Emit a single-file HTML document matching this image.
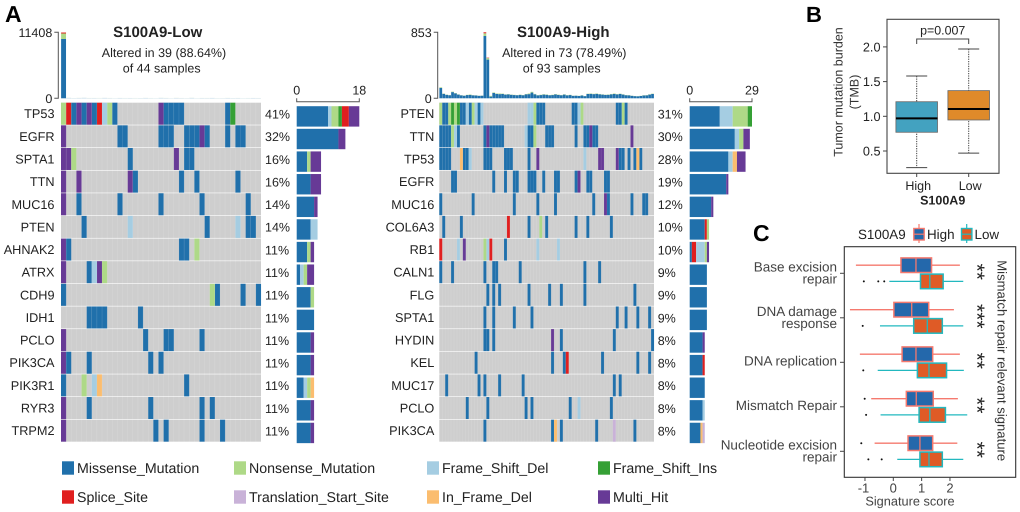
<!DOCTYPE html>
<html lang="en">
<head>
<meta charset="utf-8">
<title>S100A9 oncoplots and signature scores</title>
<style>
html,body{margin:0;padding:0;background:#fff;}
svg{display:block;font-family:"Liberation Sans",Arial,sans-serif;text-rendering:geometricPrecision;filter:blur(0.3px);}
</style>
</head>
<body>
<svg id="figure" width="1020" height="512" viewBox="0 0 1020 512" xmlns="http://www.w3.org/2000/svg">
  <rect width="1020" height="512" fill="#fff"/>
  <text x="5" y="22" font-size="23" font-weight="bold" fill="#000">A</text>
  <text x="806" y="22" font-size="22" font-weight="bold" fill="#000">B</text>
  <text x="753" y="241" font-size="23" font-weight="bold" fill="#000">C</text>

  <text x="157.7" y="37" font-size="15" font-weight="bold" text-anchor="middle" fill="#222">S100A9-Low</text>
  <text x="164" y="57" font-size="12.5" text-anchor="middle" fill="#222">Altered in 39 (88.64%)</text>
  <text x="161.7" y="72.5" font-size="12.5" text-anchor="middle" fill="#222">of 44 samples</text>
  <text x="563.3" y="37" font-size="15" font-weight="bold" text-anchor="middle" fill="#222">S100A9-High</text>
  <text x="564.3" y="57" font-size="12.5" text-anchor="middle" fill="#222">Altered in 73 (78.49%)</text>
  <text x="561.7" y="72.5" font-size="12.5" text-anchor="middle" fill="#222">of 93 samples</text>

  <g id="oncoplots"></g>
  <g id="mutation-legend"></g>
  <g id="panel-b"></g>
  <g id="panel-c"></g>
</svg>
<script>
// ---------- mutation types ----------
const typeKeys = ['M','N','L','I','S','T','F','X'];
const typeNames = ['Missense_Mutation','Nonsense_Mutation','Frame_Shift_Del','Frame_Shift_Ins','Splice_Site','Translation_Start_Site','In_Frame_Del','Multi_Hit'];
const typeColors = {M:'#2070ab',N:'#aed987',L:'#a5cde2',I:'#35a035',S:'#e01f1f',T:'#c9b2d8',F:'#fbbd6f',X:'#673a96'};
const lowStackOrder = ['M','L','N','I','S','F','T','X'];
const highStackOrder = ['M','S','L','N','I','F','T','X'];

// ---------- S100A9-Low oncoplot ----------
const lowGenes = ['TP53','EGFR','SPTA1','TTN','MUC16','PTEN','AHNAK2','ATRX','CDH9','IDH1','PCLO','PIK3CA','PIK3R1','RYR3','TRPM2'];
const lowPercents = ['41%','32%','16%','16%','14%','14%','11%','11%','11%','11%','11%','11%','11%','11%','11%'];
const lowCells = [
  {N:[0,9],S:[1,7],M:[2,4,6,10,20,21,22,23,32],X:[3,5,19],L:[8],I:[33]},
  {X:[0,27],M:[11,12,19,20,21,24,25,26,28,32,34,35]},
  {X:[0,1,22],N:[2],M:[13,24,25]},
  {X:[0,3,13],M:[14,23,26,34]},
  {X:[0],M:[3,11,19,27,36]},
  {M:[4,28,36,37],L:[13,34]},
  {X:[0],M:[1,23,24],N:[26]},
  {X:[0,7],M:[5],L:[6],N:[8]},
  {M:[0,30,35,38],N:[29]},
  {M:[5,6,7,8,15]},
  {X:[0],M:[16,20,21,27]},
  {X:[0],M:[1,5,17,19]},
  {M:[0,24],N:[4],L:[6],F:[7]},
  {X:[0],M:[5,17,27,29]},
  {X:[0],M:[18,20,27,31]}
];
const lowTopMissense = [10250,60,40,50,70,40,45,30,60,40,30,50,35,45,30,40,55,35,30,60,45,30,50,40,35,60,30,45,40,55,30,35,50,40,45,30,35,50,40];
const lowTopNonsense = [950,20,10,25,10,20,15,30,10,20,10,15,20,10,25,10,15,20,10,15,20,10,25,15,10,20,10,15,20,10,15,10,20,10,15,10,20,10,15];
const lowTopSplice = [170,0,0,0,0,0,0,0,0,0,0,0,0,0,0,0,0,0,0,0,0,0,0,0,0,0,0,0,0,0,0,0,0,0,0,0,0,0,0];

// ---------- S100A9-High oncoplot ----------
const highGenes = ['PTEN','TTN','TP53','EGFR','MUC16','COL6A3','RB1','CALN1','FLG','SPTA1','HYDIN','KEL','MUC17','PCLO','PIK3CA'];
const highPercents = ['31%','30%','28%','19%','12%','10%','10%','9%','9%','9%','8%','8%','8%','8%','8%'];
const highCells = [
  {N:[0,3,5,11,32,48,62],M:[1,2,7,8,10,13,33,34,35,45,46,60,61,63],I:[4,6],L:[9,12,14,30,31,47]},
  {M:[0,1,2,3,6,15,17,18,19,20,21,30,31,36,37,38,46,49,50,52,53],N:[4,32],L:[5,29],X:[16,51,65]},
  {M:[0,1,2,3,8,9,15,16,17,22,23,24,30,61,62,64,66,68],F:[7,67],L:[10,49],X:[33,54,55,60]},
  {M:[4,5,18,22,25,26,30,31,32,35,39,40,46,50,51,56,57],X:[47]},
  {M:[0,11,25,33,39,52,57,65,69,70],X:[56]},
  {M:[1,7,30,36,46,50,58],S:[23],N:[34]},
  {S:[0,17],L:[6,16,33,40],X:[8],N:[15],M:[22]},
  {M:[0,4,15,18,19,27,49,54]},
  {M:[16,18,20,30,37,41,49,66]},
  {M:[15,18,25,31,60,63,67,71]},
  {M:[15,16,18,41,59,72],X:[38]},
  {M:[12,38,42,55,67,71],S:[43]},
  {M:[2,13,15,20,28,59,61]},
  {M:[9,16,29,31,44,58],L:[47]},
  {M:[15,38,41,53,66],F:[39],T:[59]}
];
const highTopMissense = [135,58,45,40,80,64,48,38,34,42,44,38,36,32,34,805,500,22,70,58,54,56,48,50,46,42,40,44,40,52,54,74,52,38,42,48,46,40,42,50,44,40,48,38,42,32,34,30,36,28,56,58,54,58,52,48,44,46,52,56,50,56,48,40,38,32,28,26,30,36,38,48,56];
const highTopNonsense = [8,4,3,3,6,4,3,2,2,3,6,2,2,2,2,35,20,10,6,5,8,5,3,4,3,3,2,4,3,4,8,10,5,3,4,5,4,3,4,4,4,3,4,3,3,2,2,2,3,2,4,5,4,5,4,3,3,4,4,6,4,4,4,3,3,2,2,2,2,3,3,4,4];
const highTopSplice = [0,0,0,0,0,0,0,0,0,0,0,0,0,0,0,13,5,0,0,0,0,0,0,0,0,0,0,0,0,0,0,0,0,0,0,0,0,0,0,0,0,0,0,0,0,0,0,0,0,0,0,0,0,0,0,0,0,0,0,0,0,0,0,0,0,0,0,0,0,0,0,0,0];

const lowTopTicks = [0, 11408];
const highTopTicks = [0, 853];
const lowSideTicks = [0, 18];
const highSideTicks = [0, 29];

// ---------- panel B ----------
const tmbCategories = ['High','Low'];
const tmbMin = [0.26,0.47];
const tmbQ1 = [0.77,0.947];
const tmbMedian = [0.97,1.105];
const tmbQ3 = [1.21,1.37];
const tmbMax = [1.58,1.97];
const tmbFills = ['#43a2c0','#df8a2a'];
const tmbTicks = [0.5,1.0,1.5,2.0];

// ---------- panel C ----------
const sigCategories = [['Base excision','repair'],['DNA damage','response'],['DNA replication'],['Mismatch Repair'],['Nucleotide excision','repair']];
const sigStars = ['**','***','**','**','**'];
const highMin = [-1.32,-1.53,-1.18,-0.78,-0.66];
const highQ1 = [0.27,0.02,0.31,0.46,0.52];
const highMedian = [0.8,0.65,0.8,0.81,0.94];
const highQ3 = [1.35,1.25,1.39,1.41,1.39];
const highMax = [2.35,2.14,2.35,2.28,2.26];
const highOutliers = [[],[],[],[-1.01],[-1.13]];
const lowMin = [-0.14,-0.47,-0.55,-0.45,0.14];
const lowQ1 = [0.96,0.72,0.85,0.91,0.94];
const lowMedian = [1.29,1.2,1.26,1.29,1.26];
const lowQ3 = [1.76,1.73,1.88,1.84,1.73];
const lowMax = [2.47,2.47,2.49,2.61,2.47];
const lowOutliers = [[-1.04,-0.53,-0.32],[-1.08],[-1.06],[-0.96],[-0.88,-0.41]];
const sigTicks = [-1,0,1,2];

// ---------- helpers ----------
const NS = 'http://www.w3.org/2000/svg';
function mk(parent, tag, attrs, txt) {
  const el = document.createElementNS(NS, tag);
  for (const k in attrs) el.setAttribute(k, attrs[k]);
  if (txt !== undefined) el.textContent = txt;
  parent.appendChild(el);
  return el;
}

// ---------- oncoplot ----------
const rowTop = 102.7, rowStep = 22.64, rowH = 22;
function drawOncoplot(cfg) {
  const root = document.getElementById('oncoplots');
  const g = mk(root, 'g', {});
  
  
  const nCols = cfg.top[0].length;
  const cw = cfg.w / nCols;
  const xCol = c => cfg.x + c * cw;
  const yRow = r => rowTop + r * rowStep;
  const yTop = v => 98.3 - v / cfg.topTicks[1] * 66;
  const xSide = v => cfg.sideX + v / cfg.sideTicks[1] * cfg.sideW;

  // top stacked bars
  const topColors = ['#2070ab','#aed987','#e01f1f'];
  for (let c = 0; c < nCols; c++) {
    let acc = 0;
    cfg.top.forEach((series, s) => {
      const v = series[c];
      if (!v) return;
      const y1 = yTop(acc + v), y0 = yTop(acc);
      const bar = mk(g, 'rect', {x: xCol(c) + 0.1, y: y1, width: cw - 0.2, height: y0 - y1, fill: topColors[s], opacity: cfg.topOpacity(v)});
      
      
      acc += v;
    });
  }
  // top axis
  const ax = mk(g, 'path', {d: 'M' + (cfg.axisX - 4) + ' ' + yTop(cfg.topTicks[1]) + 'H' + cfg.axisX + 'V' + yTop(0) + 'H' + (cfg.axisX - 4), fill: 'none', stroke: '#555', 'stroke-width': 1});
  
  
  cfg.topTicks.forEach(t => {
    const tl = mk(g, 'text', {x: cfg.axisX - 6, y: yTop(t) + 4.5, 'font-size': 12.5, 'text-anchor': 'end', fill: '#222'}, t);
    
    
  });

  // rows
  cfg.genes.forEach((gene, r) => {
    const bg = mk(g, 'rect', {x: cfg.x, y: yRow(r), width: cfg.w, height: rowH, fill: '#cecece'});
    
    
    const cells = cfg.cells[r];
    for (const k in cells) {
      cells[k].forEach(c => {
        const cell = mk(g, 'rect', {x: xCol(c), y: yRow(r), width: cw + 0.05, height: rowH, fill: typeColors[k]});
        
        
      });
    }
    const gl = mk(g, 'text', {x: cfg.labelX, y: yRow(r) + 15.5, 'font-size': 12.7, 'text-anchor': 'end', fill: '#222'}, gene);
    
    
    const pl = mk(g, 'text', {x: cfg.pctX, y: yRow(r) + 15.8, 'font-size': 12.5, fill: '#222'}, cfg.percents[r]);
    
    

    // side stacked bar derived from the matrix
    let acc = 0;
    cfg.order.forEach(k => {
      const n = (cells[k] || []).length;
      if (!n) return;
      const sb = mk(g, 'rect', {x: xSide(acc), y: 106.2 + r * 22.61, width: xSide(acc + n) - xSide(acc), height: 20.4, fill: typeColors[k]});
      
      
      acc += n;
    });
  });
  // faint column separators
  for (let c = 1; c < nCols; c++) {
    const ln = mk(g, 'line', {x1: xCol(c), x2: xCol(c), y1: rowTop, y2: yRow(14) + rowH, stroke: '#fff', 'stroke-width': 0.5, opacity: cfg.sepOpacity});
    
    
  }
  // side axis
  const sa = mk(g, 'path', {d: 'M' + xSide(0) + ' 98.3V101.7H' + xSide(cfg.sideTicks[1]) + 'V98.3', fill: 'none', stroke: '#555', 'stroke-width': 1});
  
  
  cfg.sideTicks.forEach(t => {
    const st = mk(g, 'text', {x: xSide(t), y: 94.5, 'font-size': 12.5, 'text-anchor': 'middle', fill: '#222'}, t);
    
    
  });
}

drawOncoplot({id: 'low', x: 61, w: 200, axisX: 58.3, labelX: 54.5, pctX: 265, sideX: 296.7, sideW: 62.6,
  genes: lowGenes, percents: lowPercents, cells: lowCells, order: lowStackOrder,
  top: [lowTopMissense, lowTopNonsense, lowTopSplice], topTicks: lowTopTicks, sideTicks: lowSideTicks,
  topOpacity: v => v < 100 ? 0.45 : 1, sepOpacity: 0.18});
drawOncoplot({id: 'high', x: 439.3, w: 214.7, axisX: 437.7, labelX: 434.3, pctX: 657.7, sideX: 689.7, sideW: 62.3,
  genes: highGenes, percents: highPercents, cells: highCells, order: highStackOrder,
  top: [highTopMissense, highTopNonsense, highTopSplice], topTicks: highTopTicks, sideTicks: highSideTicks,
  topOpacity: v => 1, sepOpacity: 0.14});

// ---------- mutation legend ----------
(function () {
  const g = document.getElementById('mutation-legend');
  const colX = [62, 234, 427, 598];
  const rowY = [468, 497];
  typeKeys.forEach((k, i) => {
    const cx = colX[i % 4], cy = rowY[Math.floor(i / 4)];
    const sw = mk(g, 'rect', {x: cx, y: cy - 6.7, width: 12, height: 13.4, fill: typeColors[k]});
    
    
    const t = mk(g, 'text', {x: cx + 15, y: cy + 5, 'font-size': 14.2, fill: '#222'}, typeNames[i]);
    
    
  });
})();

// ---------- panel B ----------
(function () {
  const g = document.getElementById('panel-b');
  const yB = v => 116.3 - (v - 1) * 69.4;
  const xB = i => 916.7 + i * 52;
  const frame = mk(g, 'rect', {x: 887, y: 19.3, width: 112, height: 154, fill: 'none', stroke: '#444', 'stroke-width': 1.1});
  
  
  tmbTicks.forEach(t => {
    const tk = mk(g, 'line', {x1: 883, x2: 887, y1: yB(t), y2: yB(t), stroke: '#444', 'stroke-width': 1});
    
    
    const tl = mk(g, 'text', {x: 880.5, y: yB(t) + 4.6, 'font-size': 12.7, 'text-anchor': 'end', fill: '#222'}, t.toFixed(1));
    
    
  });
  tmbCategories.forEach((cat, i) => {
    const x = xB(i);
    const wh = mk(g, 'line', {x1: x, x2: x, y1: yB(tmbMax[i]), y2: yB(tmbMin[i]), stroke: '#444', 'stroke-width': 1, 'stroke-dasharray': '1.3 1.1'});
    
    
    [tmbMin[i], tmbMax[i]].forEach(v => {
      const cap = mk(g, 'line', {x1: x - 10.5, x2: x + 10.5, y1: yB(v), y2: yB(v), stroke: '#444', 'stroke-width': 1});
      
      
    });
    const box = mk(g, 'rect', {x: x - 20.8, y: yB(tmbQ3[i]), width: 41.6, height: yB(tmbQ1[i]) - yB(tmbQ3[i]), fill: tmbFills[i], stroke: '#666', 'stroke-width': 0.8});
    
    
    const med = mk(g, 'line', {x1: x - 20.8, x2: x + 20.8, y1: yB(tmbMedian[i]), y2: yB(tmbMedian[i]), stroke: '#000', 'stroke-width': 2});
    
    
    const tk = mk(g, 'line', {x1: x, x2: x, y1: 173.3, y2: 177, stroke: '#444', 'stroke-width': 1});
    
    
    const tl = mk(g, 'text', {x: x + 1.5, y: 190, 'font-size': 12.5, 'text-anchor': 'middle', fill: '#222'}, cat);
    
    
  });
  const br = mk(g, 'path', {d: 'M' + xB(0) + ' 44V39H' + xB(1) + 'V44', fill: 'none', stroke: '#444', 'stroke-width': 1});
  
  
  const p = mk(g, 'text', {x: 942.7, y: 34.5, 'font-size': 12.4, 'text-anchor': 'middle', fill: '#222'}, 'p=0.007');
  
  
  const t1 = mk(g, 'text', {x: 0, y: 0, 'font-size': 12.5, 'text-anchor': 'middle', fill: '#333', transform: 'translate(842.5 92) rotate(-90)'}, 'Tumor mutation burden');
  
  
  const t2 = mk(g, 'text', {x: 0, y: 0, 'font-size': 12.5, 'text-anchor': 'middle', fill: '#333', transform: 'translate(858.5 92) rotate(-90)'}, '(TMB)');
  
  
  const xt = mk(g, 'text', {x: 942.7, y: 204.5, 'font-size': 12.5, 'font-weight': 'bold', 'text-anchor': 'middle', fill: '#222'}, 'S100A9');
  
  
})();

// ---------- panel C ----------
(function () {
  const g = document.getElementById('panel-c');
  const xC = v => 893.3 + v * 28.33;
  const yC = i => 273.3 + i * 44.5;   // category tick position
  const HIGH_FILL = '#2468ab', HIGH_LINE = '#f5796e', LOW_FILL = '#df5b26', LOW_LINE = '#22b8bf';
  const frame = mk(g, 'rect', {x: 844.3, y: 246.7, width: 171.4, height: 230.6, fill: 'none', stroke: '#333', 'stroke-width': 1.1});
  
  

  function box(v, yc, fill, line, name) {
    const w = mk(g, 'line', {x1: xC(v.min), x2: xC(v.max), y1: yc, y2: yc, stroke: line, 'stroke-width': 1.3});
    
    
    const b = mk(g, 'rect', {x: xC(v.q1), y: yc - 7.3, width: xC(v.q3) - xC(v.q1), height: 14.6, fill: fill, stroke: line, 'stroke-width': 1.5});
    
    
    const m = mk(g, 'line', {x1: xC(v.med), x2: xC(v.med), y1: yc - 7.3, y2: yc + 7.3, stroke: line, 'stroke-width': 1.3});
    
    
    v.out.forEach(o => {
      const d = mk(g, 'circle', {cx: xC(o), cy: yc, r: 1, fill: '#111'});
      
      
    });
  }

  sigCategories.forEach((lines, i) => {
    const y = yC(i);
    box({min: highMin[i], q1: highQ1[i], med: highMedian[i], q3: highQ3[i], max: highMax[i], out: highOutliers[i]}, y - 8.1, HIGH_FILL, HIGH_LINE, 'high');
    box({min: lowMin[i], q1: lowQ1[i], med: lowMedian[i], q3: lowQ3[i], max: lowMax[i], out: lowOutliers[i]}, y + 8.1, LOW_FILL, LOW_LINE, 'low');
    const tk = mk(g, 'line', {x1: 840, x2: 844.3, y1: y, y2: y, stroke: '#444', 'stroke-width': 1});
    
    
    lines.forEach((ln, j) => {
      const cy = lines.length === 2 ? y - 6.5 + j * 12 : y - 1.5;
      const t = mk(g, 'text', {x: 837, y: cy + 4.8, 'font-size': 13.5, 'text-anchor': 'end', fill: '#444'}, ln);
      
      
    });
    const s = mk(g, 'text', {x: 0, y: 0, 'font-size': 21, 'text-anchor': 'middle', fill: '#222', transform: 'translate(970 ' + (y - 1.5) + ') rotate(90)'}, sigStars[i]);
    
    
  });

  sigTicks.forEach(t => {
    const tk = mk(g, 'line', {x1: xC(t), x2: xC(t), y1: 477.3, y2: 481, stroke: '#444', 'stroke-width': 1});
    
    
    const tl = mk(g, 'text', {x: xC(t) - (t < 0 ? 1.5 : 0), y: 492.5, 'font-size': 13, 'text-anchor': 'middle', fill: '#444'}, t);
    
    
  });
  const xt = mk(g, 'text', {x: 910, y: 505.5, 'font-size': 12.75, 'text-anchor': 'middle', fill: '#444'}, 'Signature score');
  
  
  const yt = mk(g, 'text', {x: 0, y: 0, 'font-size': 13.1, 'text-anchor': 'middle', fill: '#333', transform: 'translate(997.5 360.7) rotate(90)'}, 'Mismatch repair relevant signature');
  
  

  // legend
  const lt = mk(g, 'text', {x: 858, y: 239, 'font-size': 13.4, fill: '#222'}, 'S100A9');
  
  
  [[919, HIGH_FILL, HIGH_LINE, 'High', 927], [966.7, LOW_FILL, LOW_LINE, 'Low', 974.5]].forEach(e => {
    const v = mk(g, 'line', {x1: e[0], x2: e[0], y1: 224, y2: 243, stroke: e[2], 'stroke-width': 1.2});
    
    
    const r = mk(g, 'rect', {x: e[0] - 5.2, y: 228.5, width: 10.4, height: 11.5, fill: e[1], stroke: e[2], 'stroke-width': 1.4});
    
    
    const m = mk(g, 'line', {x1: e[0] - 5.2, x2: e[0] + 5.2, y1: 234.2, y2: 234.2, stroke: e[2], 'stroke-width': 1.2});
    
    
    const t = mk(g, 'text', {x: e[4], y: 239, 'font-size': 13.4, fill: '#222'}, e[3]);
    
    
  });
})();
</script>
</body>
</html>
